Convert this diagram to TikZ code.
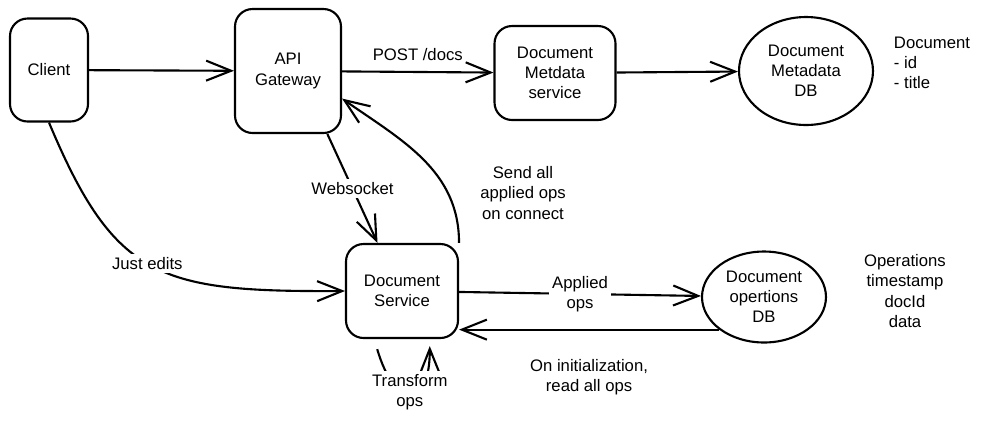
\documentclass[tikz,border=0pt]{standalone}
\usepackage{fontspec}
\setmainfont{Liberation Sans}
\usetikzlibrary{arrows.meta,shapes.geometric}

\begin{document}
\begin{tikzpicture}[x=0.02cm,y=-0.02cm,line width=1.2pt,
    font=\fontsize{9.5}{11.5}\selectfont,
    >={Straight Barb[length=5mm,width=4mm,line width=1.2pt]}]

        \useasboundingbox (0,0) rectangle (981,424);

        \begin{scope}[every node/.style={draw,rounded corners=3.5mm,align=center}]
          \node[minimum width=1.56cm,minimum height=2.06cm] (client)  at (49,70)  {Client};
          \node[minimum width=2.12cm,minimum height=2.48cm] (api)  at (288,71)  {API\\Gateway};
          \node[minimum width=2.42cm,minimum height=1.88cm] (metaservice)  at (555,73)  {Document\\Metdata\\service};
          \node[minimum width=2.24cm,minimum height=1.88cm] (docservice)  at (402,291)  {Document\\Service};
        \end{scope}

        \begin{scope}[every node/.style={draw,ellipse,inner sep=0pt,align=center}]
          \node[minimum width=2.68cm,minimum height=2.16cm] (metadb)  at (806,71)  {Document\\Metadata\\DB};
          \node[minimum width=2.48cm,minimum height=1.82cm] (opsdb)  at (764,297)  {Document\\opertions\\DB};
        \end{scope}

        \node[align=left] (metanote) at (932,63) {Document\\- id\\- title};
        \node[align=center] (opsnote) at (905,291) {Operations\\timestamp\\docId\\data};

        \begin{scope}[every node/.style={fill=white,align=center,inner sep=2pt}]

          \begin{scope}[every edge/.style={draw,->}]
            \path (client)  edge (api);
            \path (api)  edge node[above=4pt,fill=none] {POST /docs} (metaservice);
            \path (metaservice)  edge (metadb);
            \path (api.-58)  edge node {Websocket} (docservice.117);
            \path (docservice.north east)  edge[out=90,in=-35] (api.-27);
            \path (docservice)  edge node {Applied\\ops} (opsdb);
            \path (opsdb.216)  edge node[below=5mm,fill=none] {On initialization,\\read all ops} (opsdb.216 -| docservice.east);
          \end{scope}

          \draw[->] (client.south) .. controls (115,280) and (160,292) .. (docservice.west)
            node[pos=.48] {Just edits};
          \draw[->,shorten <=6pt,shorten >=4pt] (docservice.240) .. controls (395,410) and (430,410) .. (docservice.300)
            node[pos=.5] {Transform\\ops};
        \end{scope}

        \node[align=center] (sendlabel) at (523,193) {Send all\\applied ops\\on connect};

      \end{tikzpicture}
\end{document}
